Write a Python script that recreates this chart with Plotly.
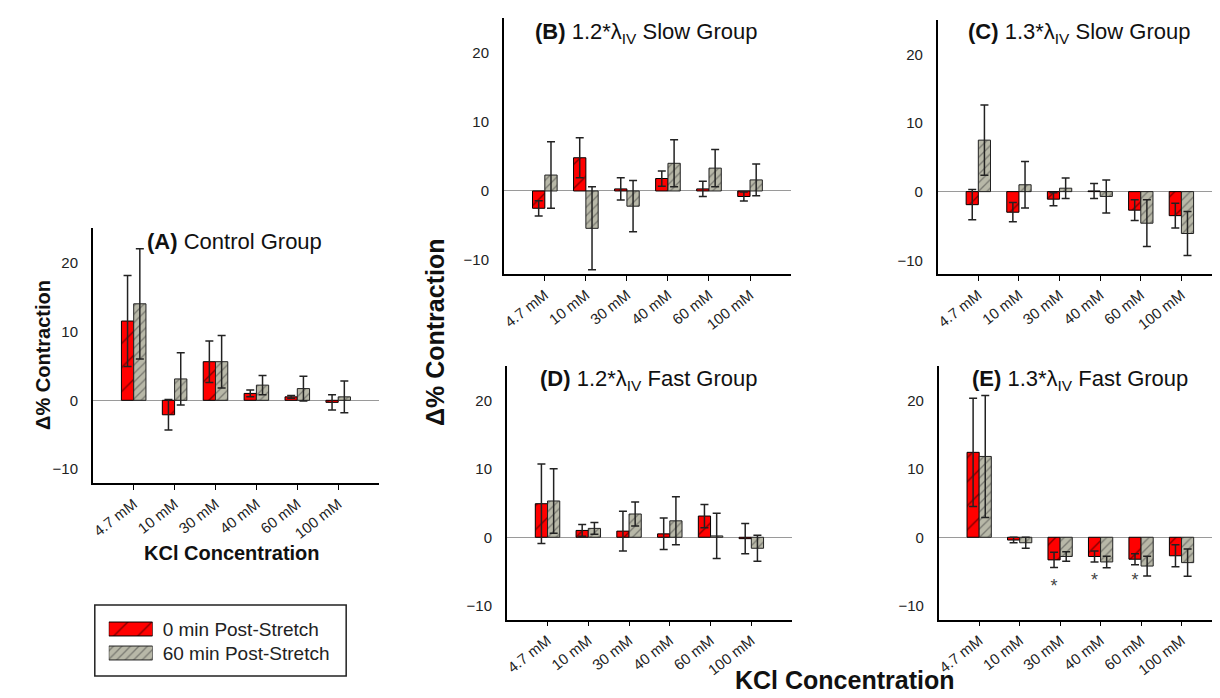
import plotly.graph_objects as go

# ---------------- data ----------------
categories = ["4.7 mM", "10 mM", "30 mM", "40 mM", "60 mM", "100 mM"]
series_names = ["0 min Post-Stretch", "60 min Post-Stretch"]

A_0 = [11.5, -2.1, 5.6, 1.0, 0.5, -0.3]
A_0_err = [6.6, 2.2, 3.0, 0.5, 0.2, 1.1]
A_60 = [14.0, 3.1, 5.6, 2.2, 1.7, 0.5]
A_60_err = [8.0, 3.8, 3.8, 1.4, 1.8, 2.3]

B_0 = [-2.5, 4.8, 0.3, 1.8, 0.3, -0.8]
B_0_err = [1.1, 2.9, 1.6, 1.1, 1.1, 0.65]
B_60 = [2.3, -5.4, -2.2, 4.0, 3.3, 1.6]
B_60_err = [4.8, 6.0, 3.7, 3.4, 2.7, 2.3]

C_0 = [-1.9, -3.0, -1.1, 0.1, -2.7, -3.5]
C_0_err = [2.2, 1.4, 0.95, 1.1, 1.5, 1.8]
C_60 = [7.5, 1.0, 0.5, -0.7, -4.6, -6.1]
C_60_err = [5.1, 3.4, 1.5, 2.4, 3.4, 3.2]

D_0 = [4.9, 1.0, 0.9, 0.5, 3.1, -0.2]
D_0_err = [5.8, 0.85, 2.9, 2.3, 1.7, 2.2]
D_60 = [5.3, 1.3, 3.4, 2.4, 0.2, -1.6]
D_60_err = [4.7, 0.85, 1.75, 3.5, 3.3, 1.9]

E_0 = [12.4, -0.4, -3.3, -2.8, -3.2, -2.7]
E_0_err = [7.9, 0.4, 1.1, 0.8, 0.8, 1.6]
E_60 = [11.8, -0.8, -2.8, -3.6, -4.2, -3.7]
E_60_err = [8.9, 0.8, 0.7, 0.85, 1.45, 2.0]

star_cats = ["30 mM", "40 mM", "60 mM"]
star_y = [-7.3, -6.4, -6.5]

y_ticks = [-10, 0, 10, 20]

titles = [
    "<b>(A)</b> Control Group",
    "<b>(B)</b> 1.2*λ<sub>IV</sub> Slow Group",
    "<b>(C)</b> 1.3*λ<sub>IV</sub> Slow Group",
    "<b>(D)</b> 1.2*λ<sub>IV</sub> Fast Group",
    "<b>(E)</b> 1.3*λ<sub>IV</sub> Fast Group",
]

# ---------------- layout helpers ----------------
W, H = 1220, 698
FONT = "Liberation Sans, Arial, sans-serif"


def fx(p):
    return p / W


def fy(p):
    return 1 - p / H


# pixel boxes (left, right, top, bottom) for each panel
boxes = [
    (82, 369, 220, 475),
    (494, 782, 10, 266),
    (929, 1214, 12, 266),
    (497, 783, 358, 611.5),
    (930, 1214, 358, 611.5),
]
title_pos = [(224, 233), (637, 25), (1071, 25), (640, 372), (1072, 372)]

data = [
    (A_0, A_0_err, A_60, A_60_err),
    (B_0, B_0_err, B_60, B_60_err),
    (C_0, C_0_err, C_60, C_60_err),
    (D_0, D_0_err, D_60, D_60_err),
    (E_0, E_0_err, E_60, E_60_err),
]

xs = list(range(len(categories)))
fig = go.Figure()
layout = dict()

red_pattern = dict(shape="/", size=17, solidity=0.08, fgcolor="#000000", bgcolor="#ff0000")
gray_pattern = dict(shape="/", size=6, solidity=0.22, fgcolor="#3a3a3a", bgcolor="#b8b8a8")
red_marker = dict(color="#ff0000", pattern=red_pattern, line=dict(color="#000000", width=1))
gray_marker = dict(color="#b8b8a8", pattern=gray_pattern, line=dict(color="#222222", width=1))

for i, (v0, e0, v60, e60) in enumerate(data):
    n = "" if i == 0 else str(i + 1)
    xa, ya = "x" + n, "y" + n
    fig.add_trace(go.Bar(
        x=xs, y=v0, xaxis=xa, yaxis=ya, name=series_names[0],
        marker=red_marker,
        error_y=dict(type="data", array=e0, visible=True, color="#222222",
                     thickness=1.5, width=4),
        showlegend=False, offsetgroup="s0",
    ))
    fig.add_trace(go.Bar(
        x=xs, y=v60, xaxis=xa, yaxis=ya, name=series_names[1],
        marker=gray_marker,
        error_y=dict(type="data", array=e60, visible=True, color="#222222",
                     thickness=1.5, width=4),
        showlegend=False, offsetgroup="s60",
    ))
    l, r, t, b = boxes[i]
    layout["xaxis" + n] = dict(
        domain=[fx(l), fx(r)], anchor=ya, range=[-1, 6],
        tickvals=xs, ticktext=categories, tickangle=-38,
        ticks="outside", ticklen=5, tickcolor="#000", tickwidth=1,
        showline=True, linecolor="#000", linewidth=1.5,
        showgrid=False, zeroline=False,
        tickfont=dict(size=15, color="#222", family=FONT),
    )
    layout["yaxis" + n] = dict(
        domain=[fy(b), fy(t)], anchor=xa, range=[-12, 25],
        tickvals=y_ticks, ticks="", showline=True, linecolor="#000",
        linewidth=1.5, showgrid=False, zeroline=True,
        zerolinecolor="#9a9a9a", zerolinewidth=1, ticklabelstandoff=10,
        tickfont=dict(size=15, color="#222", family=FONT),
    )

# significance stars on panel E
fig.add_trace(go.Scatter(
    x=[categories.index(c) - 0.15 for c in star_cats], y=star_y,
    xaxis="x5", yaxis="y5", mode="text", text=["*"] * len(star_cats),
    textfont=dict(size=18, color="#444", family=FONT),
    showlegend=False, hoverinfo="skip",
))

# legend drawn as a small key panel (wide swatches like the reference)
legend_key_length = [1, 1]
for name, mk, kl in zip(series_names, [red_marker, gray_marker], legend_key_length):
    fig.add_trace(go.Bar(
        x=[kl], y=[name], orientation="h", xaxis="x6", yaxis="y6",
        marker=mk, width=0.58, offsetgroup="key", showlegend=False,
        hoverinfo="skip",
    ))
layout["xaxis6"] = dict(domain=[fx(98), fx(142)], anchor="y6", range=[0, 1],
                        visible=False, fixedrange=True)
layout["yaxis6"] = dict(domain=[fy(657), fy(609)], anchor="x6", type="category",
                        categoryorder="array", categoryarray=series_names,
                        autorange="reversed", side="right", ticks="",
                        showline=False, showgrid=False, zeroline=False,
                        ticklabelstandoff=9,
                        tickfont=dict(size=19, color="#222", family=FONT))

annotations = []
for (tx, ty), t in zip(title_pos, titles):
    annotations.append(dict(
        x=fx(tx), y=fy(ty), xref="paper", yref="paper", text=t,
        showarrow=False, xanchor="center", yanchor="middle",
        font=dict(size=22, color="#111", family=FONT),
    ))

annotations += [
    dict(x=fx(32), y=fy(347), text="<b>Δ% Contraction</b>", textangle=-90,
         font=dict(size=20, color="#111", family=FONT)),
    dict(x=fx(222), y=fy(545), text="<b>KCl Concentration</b>",
         font=dict(size=20, color="#111", family=FONT)),
    dict(x=fx(425), y=fy(324), text="<b>Δ% Contraction</b>", textangle=-90,
         font=dict(size=25, color="#111", family=FONT)),
    dict(x=fx(836), y=fy(672), text="<b>KCl Concentration</b>",
         font=dict(size=25, color="#111", family=FONT)),
]
for a in annotations[len(titles):]:
    a.update(xref="paper", yref="paper", showarrow=False,
             xanchor="center", yanchor="middle")

fig.update_layout(
    width=W, height=H,
    margin=dict(l=0, r=0, t=0, b=0),
    paper_bgcolor="white", plot_bgcolor="white",
    barmode="group", bargap=0.4, bargroupgap=0,
    font=dict(family=FONT, color="#222"),
    annotations=annotations,
    showlegend=False,
    shapes=[dict(type="rect", xref="paper", yref="paper",
                 x0=fx(84), x1=fx(336), y0=fy(668), y1=fy(597),
                 line=dict(color="#222", width=1.5))],
    **layout,
)

fig.write_html("out.html")
